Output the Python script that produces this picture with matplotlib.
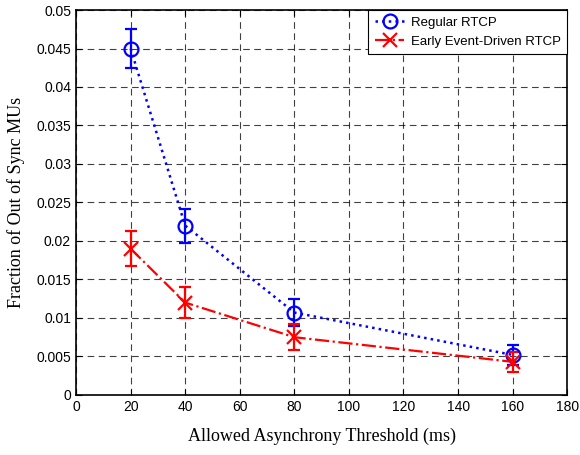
import matplotlib
matplotlib.use("Agg")
import matplotlib.pyplot as plt
from matplotlib.lines import Line2D

# data
thresholds = [20, 40, 80, 160]
regular = [0.045, 0.022, 0.0107, 0.0052]
regular_err = [0.0025, 0.0022, 0.0018, 0.0013]
early = [0.019, 0.012, 0.0075, 0.0043]
early_err = [0.0023, 0.002, 0.0017, 0.0013]

plt.rcParams['font.family'] = 'Liberation Sans'

fig = plt.figure(figsize=(5.8, 4.55), dpi=100)
ax = fig.add_axes([0.131, 0.132, 0.847, 0.846])

ax.errorbar(thresholds, regular, yerr=regular_err, color='blue', linestyle=':',
            linewidth=1.8, marker='o', markersize=10, markerfacecolor='none',
            markeredgewidth=1.6, capsize=4, elinewidth=1.6, capthick=1.6)
ax.errorbar(thresholds, early, yerr=early_err, color='red', linestyle='-.',
            linewidth=1.6, marker='x', markersize=10,
            markeredgewidth=1.6, capsize=4, elinewidth=1.6, capthick=1.6)

ax.set_xlim(0, 180)
ax.set_ylim(0, 0.05)
ax.set_xticks(range(0, 181, 20))
ax.set_yticks([i * 0.005 for i in range(11)])
ax.set_yticklabels(['0', '0.005', '0.01', '0.015', '0.02', '0.025', '0.03',
                    '0.035', '0.04', '0.045', '0.05'])
ax.tick_params(direction='in', labelsize=10, top=True, right=True, length=4)
ax.grid(True, color='black', linestyle=(0, (6, 4)), linewidth=0.8, alpha=0.75)
for s in ax.spines.values():
    s.set_linewidth(1.2)

ax.set_xlabel('Allowed Asynchrony Threshold (ms)', family='Liberation Serif', fontsize=13, labelpad=10)
ax.set_ylabel('Fraction of Out of Sync MUs', family='Liberation Serif', fontsize=13, labelpad=8)

handles = [
    Line2D([], [], color='blue', linestyle=':', linewidth=1.8, marker='o',
           markersize=10, markerfacecolor='none', markeredgewidth=1.6),
    Line2D([], [], color='red', linestyle='-.', linewidth=1.6, marker='x',
           markersize=10, markeredgewidth=1.6),
]
leg = ax.legend(handles, ['Regular RTCP', 'Early Event-Driven RTCP'],
                loc='upper right', fontsize=9.5, fancybox=False, edgecolor='black',
                framealpha=1, borderaxespad=0, handlelength=2.2,
                borderpad=0.5, labelspacing=0.5, handletextpad=0.5)
leg.get_frame().set_linewidth(0.8)

fig.savefig('out.png', dpi=100)
